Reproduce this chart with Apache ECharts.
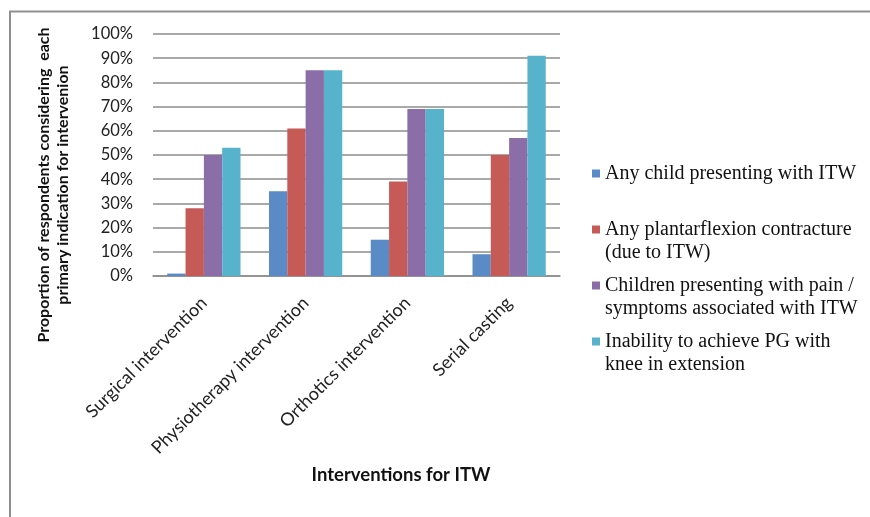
<!DOCTYPE html>
<html>
<head>
<meta charset="utf-8">
<script src="https://cdn.jsdelivr.net/npm/echarts@6/dist/echarts.min.js"></script>
<style>
  html, body { margin: 0; padding: 0; background: #fff; }
  #chart { width: 870px; height: 517px; }
</style>
</head>
<body>
<div id="chart"></div>
<script>
// Interventions for idiopathic toe walking (ITW) and the share of respondents
// who consider each indication a primary reason for the intervention.
const categories = [
  'Surgical intervention',
  'Physiotherapy intervention',
  'Orthotics intervention',
  'Serial casting'
];

const seriesNames = [
  'Any child presenting with ITW',
  'Any plantarflexion contracture\n(due to ITW)',
  'Children presenting with pain /\nsymptoms associated with ITW',
  'Inability to achieve PG with\nknee in extension'
];

const anyChild      = [1, 35, 15, 9];
const contracture   = [28, 61, 39, 50];
const painSymptoms  = [50, 85, 69, 57];
const inabilityPG   = [53, 85, 69, 91];

const yTicks = [0, 10, 20, 30, 40, 50, 60, 70, 80, 90, 100];

const colors = ['#5b8bc6', '#c55a57', '#8b6ea7', '#57b3cc'];
const seriesValues = [anyChild, contracture, painSymptoms, inabilityPG];

const chart = echarts.init(document.getElementById('chart'), null, { renderer: 'canvas' });

// Legend marker: square on the first text line; the invisible end points
// stretch the icon box to the height of a two-line entry.
const legendIcon = 'path://M0,0L0.01,0M0,7.5L8,7.5L8,15.5L0,15.5ZM0,46L0.01,46';

chart.setOption({
  animation: false,
  backgroundColor: '#ffffff',
  color: colors,
  grid: { left: 153, right: 310, top: 34, bottom: 241, containLabel: false },
  legend: {
    orient: 'vertical',
    left: 587,
    top: 157,
    itemWidth: 8,
    itemHeight: 46,
    itemGap: 10,
    icon: legendIcon,
    selectedMode: false,
    formatter: function (name) {
      return name.indexOf('\n') < 0 ? name + '\n ' : name;
    },
    textStyle: {
      fontFamily: '"Liberation Serif", "Times New Roman", serif',
      fontSize: 20,
      lineHeight: 23,
      color: '#111'
    },
    itemStyle: { borderWidth: 0 }
  },
  xAxis: {
    type: 'category',
    data: categories,
    axisLine: { show: true, lineStyle: { color: '#8c8c8c', width: 1.5 } },
    axisTick: { show: false },
    axisLabel: {
      rotate: 45,
      interval: 0,
      margin: 24,
      fontFamily: 'Lato, "Open Sans", sans-serif',
      fontSize: 18,
      color: '#222'
    }
  },
  yAxis: {
    type: 'value',
    min: yTicks[0],
    max: yTicks[yTicks.length - 1],
    interval: yTicks[1] - yTicks[0],
    axisLine: { show: false },
    axisTick: { show: false },
    splitLine: { lineStyle: { color: '#8c8c8c', width: 1.5 } },
    axisLabel: {
      margin: 20,
      formatter: '{value}%',
      fontFamily: 'Lato, "Open Sans", sans-serif',
      fontSize: 16.5,
      color: '#222'
    }
  },
  series: seriesValues.map(function (vals, i) {
    return {
      name: seriesNames[i],
      type: 'bar',
      data: vals,
      barGap: '0%',
      barCategoryGap: '28%',
      itemStyle: { color: colors[i] }
    };
  }),
  graphic: [
    {
      // outer frame around the chart
      type: 'rect',
      shape: { x: 10, y: 11.5, width: 900, height: 600 },
      style: { fill: 'none', stroke: '#8f8f8f', lineWidth: 2 },
      silent: true
    },
    {
      type: 'text',
      x: 53,
      y: 185,
      rotation: Math.PI / 2,
      style: {
        text: 'Proportion of respondents considering  each\nprimary indication for intervenion',
        fontFamily: 'Lato, "Open Sans", sans-serif',
        fontWeight: 'bold',
        fontSize: 16,
        lineHeight: 19,
        fill: '#111',
        align: 'center',
        verticalAlign: 'middle'
      }
    },
    {
      type: 'text',
      x: 401,
      y: 475,
      style: {
        text: 'Interventions for ITW',
        fontFamily: 'Lato, "Open Sans", sans-serif',
        fontWeight: 'bold',
        fontSize: 18.5,
        fill: '#111',
        align: 'center',
        verticalAlign: 'middle'
      }
    }
  ]
});
</script>
</body>
</html>
